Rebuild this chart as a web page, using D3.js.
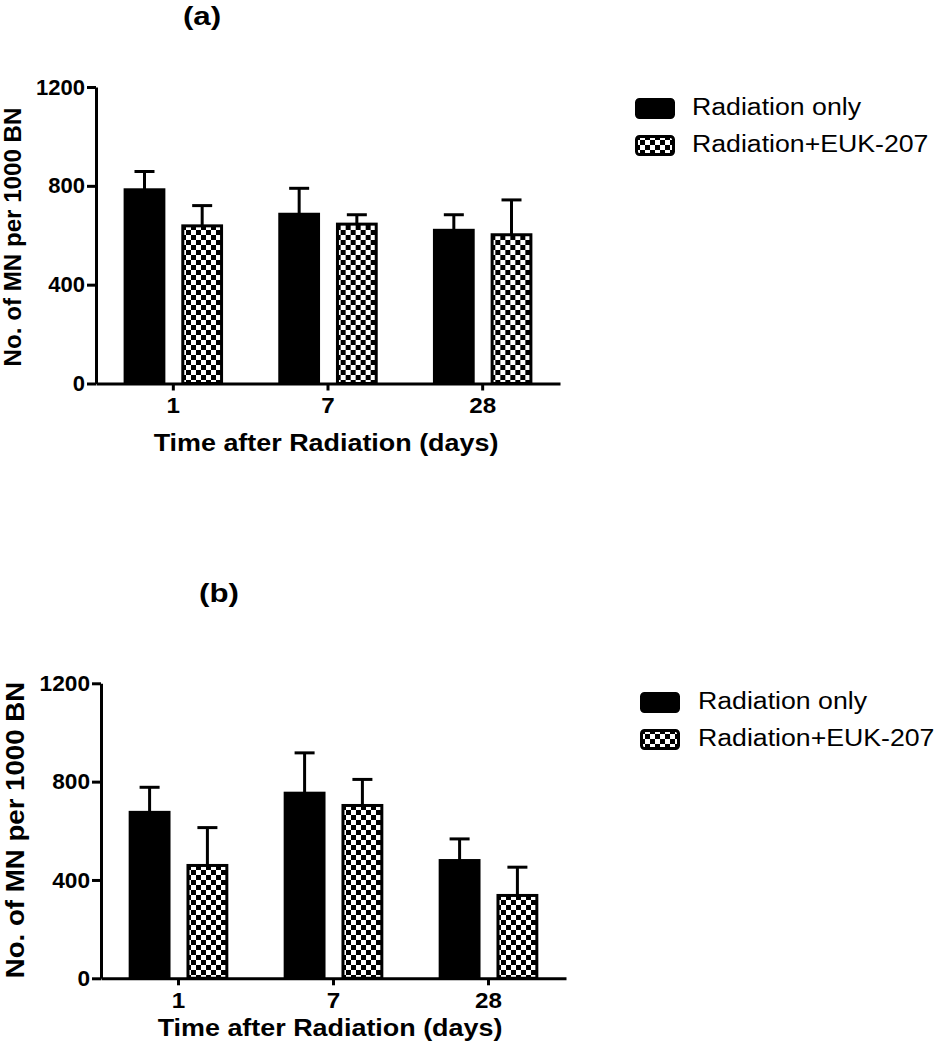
<!DOCTYPE html>
<html>
<head>
<meta charset="utf-8">
<script src="https://cdn.jsdelivr.net/npm/d3@7"></script>
<style>
  html, body { margin: 0; padding: 0; background: #fff; }
  svg { display: block; }
  text { font-family: "Liberation Sans", Arial, sans-serif; fill: #000; }
</style>
</head>
<body>
<svg id="chart" width="935" height="1050"></svg>
<script>
// ---- data ----
const days = ["1", "7", "28"];
const seriesNames = ["Radiation only", "Radiation+EUK-207"];
const yTicks = [0, 400, 800, 1200];

// panel (a)
const aRadiationOnly = [784, 685, 620];
const aRadiationOnlySem = [74, 105, 63];
const aRadiationEuk = [638, 645, 602];
const aRadiationEukSem = [82, 38, 141];

// panel (b)
const bRadiationOnly = [675, 753, 479];
const bRadiationOnlySem = [102, 164, 88];
const bRadiationEuk = [459, 703, 337];
const bRadiationEukSem = [154, 106, 115];

const xTitle = "Time after Radiation (days)";
const yTitle = "No. of MN per 1000 BN";

// ---- drawing ----
const svg = d3.select("#chart");
const defs = svg.append("defs");
const cell = 5;
const pat = defs.append("pattern")
  .attr("id", "checker").attr("patternUnits", "userSpaceOnUse")
  .attr("width", cell * 2).attr("height", cell * 2);
pat.append("rect").attr("width", cell * 2).attr("height", cell * 2).attr("fill", "#fff");
pat.append("rect").attr("width", cell).attr("height", cell).attr("fill", "#000");
pat.append("rect").attr("x", cell).attr("y", cell).attr("width", cell).attr("height", cell).attr("fill", "#000");

const fills = ["#000", "url(#checker)"];

function panel(cfg) {
  const g = svg.append("g");
  const data = days.map((d, i) => ({
    day: d,
    vals: [
      { s: 0, v: cfg.v0[i], e: cfg.e0[i] },
      { s: 1, v: cfg.v1[i], e: cfg.e1[i] }
    ]
  }));
  const x0 = d3.scaleBand().domain(days).range([cfg.left, cfg.right]).paddingInner(0).paddingOuter(0);
  const bw = x0.bandwidth();
  const inner = bw * 0.643;
  const x1 = d3.scaleBand().domain([0, 1])
    .range([(bw - inner) / 2, (bw + inner) / 2]).paddingInner(0.276).paddingOuter(0);
  const y = d3.scaleLinear().domain([0, 1200]).range([cfg.bottom, cfg.top]);

  const grp = g.selectAll("g.grp").data(data).join("g")
    .attr("transform", d => `translate(${x0(d.day)},0)`);
  // error bars (upper only)
  grp.selectAll("g.err").data(d => d.vals).join("g").each(function(d) {
    const cx = x1(d.s) + x1.bandwidth() / 2;
    const sel = d3.select(this);
    sel.append("line").attr("x1", cx).attr("x2", cx)
      .attr("y1", y(d.v)).attr("y2", y(d.v + d.e))
      .attr("stroke", "#000").attr("stroke-width", 3);
    sel.append("line").attr("x1", cx - 10).attr("x2", cx + 10)
      .attr("y1", y(d.v + d.e)).attr("y2", y(d.v + d.e))
      .attr("stroke", "#000").attr("stroke-width", 3);
  });
  grp.selectAll("rect.bar").data(d => d.vals).join("rect")
    .attr("class", "bar")
    .attr("x", d => x1(d.s) + 1.5)
    .attr("width", x1.bandwidth() - 3)
    .attr("y", d => y(d.v))
    .attr("height", d => y(0) - y(d.v))
    .attr("fill", d => fills[d.s])
    .attr("stroke", "#000").attr("stroke-width", 3);

  // y axis
  const ya = g.append("g").attr("transform", `translate(${cfg.left},0)`)
    .call(d3.axisLeft(y).tickValues(yTicks).tickSize(9).tickSizeOuter(0).tickPadding(4).tickFormat(d3.format("d")));
  ya.select(".domain").attr("stroke-width", 3).attr("stroke", "#000");
  ya.selectAll(".tick line").attr("stroke-width", 3).attr("stroke", "#000");
  ya.selectAll(".tick text")
    .attr("x", 0)
    .attr("transform", `translate(${-cfg.yLabGap},0) scale(${cfg.tickSx},1)`)
    .style("font-size", cfg.tickFont + "px").style("font-weight", "bold");

  // x axis
  const xa = g.append("g").attr("transform", `translate(0,${cfg.bottom})`)
    .call(d3.axisBottom(x0).tickSize(7).tickSizeOuter(0).tickPadding(8));
  xa.select(".domain").attr("stroke-width", 3).attr("stroke", "#000");
  xa.selectAll(".tick line").attr("stroke-width", 3).attr("stroke", "#000");
  xa.selectAll(".tick text")
    .attr("y", 0).attr("dy", 0)
    .attr("transform", `translate(0,${cfg.xTickBase}) scale(1.1,1)`)
    .style("font-size", "22px").style("font-weight", "bold");

  // titles
  g.append("text")
    .attr("transform", `translate(${cfg.xTitleX},${cfg.xTitleY}) scale(1.17,1)`)
    .attr("text-anchor", "middle").style("font-size", "23px").style("font-weight", "bold")
    .text(xTitle);
  g.append("text")
    .attr("transform", `translate(${cfg.yTitleX},${cfg.yTitleY}) rotate(-90) scale(${cfg.yTitleSx},1)`)
    .attr("text-anchor", "middle").style("font-size", cfg.yTitleFont + "px").style("font-weight", "bold")
    .text(yTitle);
  g.append("text")
    .attr("transform", `translate(${cfg.labX},${cfg.labY}) scale(1.25,1)`)
    .attr("text-anchor", "middle").style("font-size", "25px").style("font-weight", "bold")
    .text(cfg.label);

  // legend
  const lg = g.append("g").attr("transform", `translate(${cfg.legX},${cfg.legY})`);
  seriesNames.forEach((name, i) => {
    const row = lg.append("g").attr("transform", `translate(0,${i * cfg.legStep})`);
    row.append("rect").attr("x", 1.5).attr("y", 1.5).attr("width", 37).attr("height", 18)
      .attr("rx", 3).attr("fill", fills[i]).attr("stroke", "#000").attr("stroke-width", 3);
    row.append("text")
      .attr("transform", `translate(${cfg.legTextDx},${17}) scale(1.16,1)`)
      .style("font-size", "23px")
      .text(name);
  });
}

panel({
  v0: aRadiationOnly, e0: aRadiationOnlySem, v1: aRadiationEuk, e1: aRadiationEukSem,
  left: 96, right: 560, top: 87, bottom: 383.5,
  tickFont: 22, tickSx: 1.0, yLabGap: 11, xTickBase: 29.5,
  xTitleX: 326, xTitleY: 451,
  yTitleX: 21, yTitleY: 237, yTitleFont: 23, yTitleSx: 1.05,
  label: "(a)", labX: 202, labY: 25,
  legX: 635, legY: 98, legStep: 37, legTextDx: 57
});

panel({
  v0: bRadiationOnly, e0: bRadiationOnlySem, v1: bRadiationEuk, e1: bRadiationEukSem,
  left: 101, right: 566, top: 683.3, bottom: 978.3,
  tickFont: 22, tickSx: 1.03, yLabGap: 11, xTickBase: 30,
  xTitleX: 330, xTitleY: 1036,
  yTitleX: 24, yTitleY: 830, yTitleFont: 26, yTitleSx: 1.064,
  label: "(b)", labX: 219, labY: 602,
  legX: 640, legY: 692, legStep: 37, legTextDx: 58
});
</script>
</body>
</html>
